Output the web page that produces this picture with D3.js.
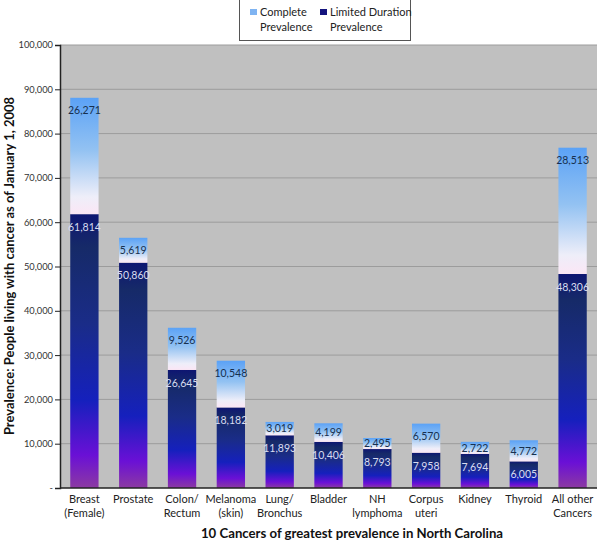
<!DOCTYPE html>
<html><head><meta charset="utf-8">
<script src="https://cdn.jsdelivr.net/npm/d3@7"></script>
<style>body{margin:0;background:#fff}svg{display:block;font-family:Lato,"Open Sans",sans-serif}</style>
</head><body><svg id="c" width="600" height="541"></svg>
<script>
const categories = ["Breast|(Female)","Prostate","Colon/|Rectum","Melanoma|(skin)","Lung/|Bronchus","Bladder","NH|lymphoma","Corpus|uteri","Kidney","Thyroid","All other|Cancers"];
const limitedDuration = [61814,50860,26645,18182,11893,10406,8793,7958,7694,6005,48306];
const completeExtra = [26271,5619,9526,10548,3019,4199,2495,6570,2722,4772,28513];
const yTicks = [0,10000,20000,30000,40000,50000,60000,70000,80000,90000,100000];
const seriesNames = ["Complete Prevalence","Limited Duration Prevalence"];

const svg = d3.select("#c");
const m = {l:60, r:597, t:45, b:488};
const x = d3.scaleBand().domain(categories).range([m.l, m.r]).paddingInner(0.42).paddingOuter(0.21);
const y = d3.scaleLinear().domain([0,100000]).range([m.b, m.t]);

const defs = svg.append("defs");
const gL = defs.append("linearGradient").attr("id","gL").attr("x1",0).attr("y1",0).attr("x2",0).attr("y2",1);
[[0,"#0e1672"],[0.12,"#162a68"],[0.4,"#1a2c88"],[0.68,"#1520bd"],[0.88,"#6a10d6"],[1,"#8c3aa2"]].forEach(s=>gL.append("stop").attr("offset",s[0]).attr("stop-color",s[1]));
const gC = defs.append("linearGradient").attr("id","gC").attr("x1",0).attr("y1",0).attr("x2",0).attr("y2",1);
[[0,"#5ba2f6"],[0.45,"#93c2f2"],[0.85,"#eeeef9"],[1,"#fbe6f5"]].forEach(s=>gC.append("stop").attr("offset",s[0]).attr("stop-color",s[1]));

// plot background
svg.append("rect").attr("x",m.l).attr("y",m.t).attr("width",m.r-m.l).attr("height",m.b-m.t).attr("fill","#c0c0c0");
// gridlines
svg.append("g").selectAll("line").data(yTicks.slice(1)).join("line")
  .attr("x1",m.l).attr("x2",m.r).attr("y1",d=>y(d)).attr("y2",d=>y(d))
  .attr("stroke","#9c9c9c").attr("stroke-width",1);

// y axis
const ya = svg.append("g").attr("transform",`translate(${m.l},0)`)
  .call(d3.axisLeft(y).tickValues(yTicks).tickSize(5).tickPadding(2).tickFormat(d=>d===0?"-":d3.format(",")(d)));
ya.select(".domain").attr("stroke","#222").attr("stroke-width",1.5);
ya.selectAll(".tick line").attr("stroke","#222");
ya.selectAll("text").attr("font-size",9.3).attr("fill","#333").attr("font-family","Lato, sans-serif");

// bars
const idx = d3.range(categories.length);
const bars = svg.append("g");
bars.selectAll(".lim").data(idx).join("rect").attr("class","lim")
  .attr("x",i=>x(categories[i])).attr("width",x.bandwidth())
  .attr("y",i=>y(limitedDuration[i])).attr("height",i=>y(0)-y(limitedDuration[i]))
  .attr("fill","url(#gL)");
bars.selectAll(".com").data(idx).join("rect").attr("class","com")
  .attr("x",i=>x(categories[i])).attr("width",x.bandwidth())
  .attr("y",i=>y(limitedDuration[i]+completeExtra[i])).attr("height",i=>y(limitedDuration[i])-y(limitedDuration[i]+completeExtra[i]))
  .attr("fill","url(#gC)");

// x axis line
svg.append("line").attr("x1",m.l).attr("x2",m.r).attr("y1",m.b).attr("y2",m.b).attr("stroke","#222").attr("stroke-width",1.5);

// data labels
const fmt = d3.format(",");
svg.append("g").selectAll("text").data(idx).join("text")
  .attr("x",i=>x(categories[i])+x.bandwidth()/2)
  .attr("y",i=>{const top=y(limitedDuration[i]+completeExtra[i]); const h=y(limitedDuration[i])-top; return top+Math.min(12.5,h/2)+3.8;})
  .attr("text-anchor","middle").attr("font-size",10.5).attr("fill","#17304f")
  .text(i=>fmt(completeExtra[i]));
svg.append("g").selectAll("text").data(idx).join("text")
  .attr("x",i=>x(categories[i])+x.bandwidth()/2)
  .attr("y",i=>y(limitedDuration[i])+13+3.8)
  .attr("text-anchor","middle").attr("font-size",10.5).attr("fill","#d8dcf0")
  .text(i=>fmt(limitedDuration[i]));

// category labels
const cl = svg.append("g").selectAll("text").data(categories).join("text")
  .attr("x",d=>x(d)+x.bandwidth()/2).attr("y",503)
  .attr("text-anchor","middle").attr("font-size",11).attr("fill","#222");
cl.each(function(d){
  const parts = d.split("|");
  parts.forEach((p,k)=>d3.select(this).append("tspan").attr("x",x(d)+x.bandwidth()/2).attr("dy",k?13.5:0).text(p));
});

// axis titles
svg.append("text").attr("x",352).attr("y",538).attr("text-anchor","middle")
  .attr("font-size",13.2).attr("font-weight","bold").attr("fill","#111")
  .text("10 Cancers of greatest prevalence  in North Carolina");
svg.append("text").attr("transform","translate(14,266) rotate(-90)").attr("text-anchor","middle")
  .attr("font-size",13).attr("font-weight","bold").attr("fill","#111")
  .text("Prevalence: People living with cancer  as of January 1, 2008");

// legend
const lg = svg.append("g");
lg.append("rect").attr("x",239.5).attr("y",-1).attr("width",171).attr("height",41.5).attr("fill","#fff").attr("stroke","#555");
const leg = [{n:seriesNames[0],f:"#7fb4f2",x:250},{n:seriesNames[1],f:"#14147e",x:320}];
leg.forEach(L=>{
  lg.append("rect").attr("x",L.x).attr("y",9).attr("width",7).attr("height",6).attr("fill",L.f);
  const words = L.n.split(" ");
  const l1 = words.slice(0,-1).join(" "), l2 = words[words.length-1];
  lg.append("text").attr("x",L.x+10).attr("y",16).attr("font-size",11).attr("fill","#222").text(l1);
  lg.append("text").attr("x",L.x+10).attr("y",31).attr("font-size",11).attr("fill","#222").text(l2);
});
</script></body></html>
